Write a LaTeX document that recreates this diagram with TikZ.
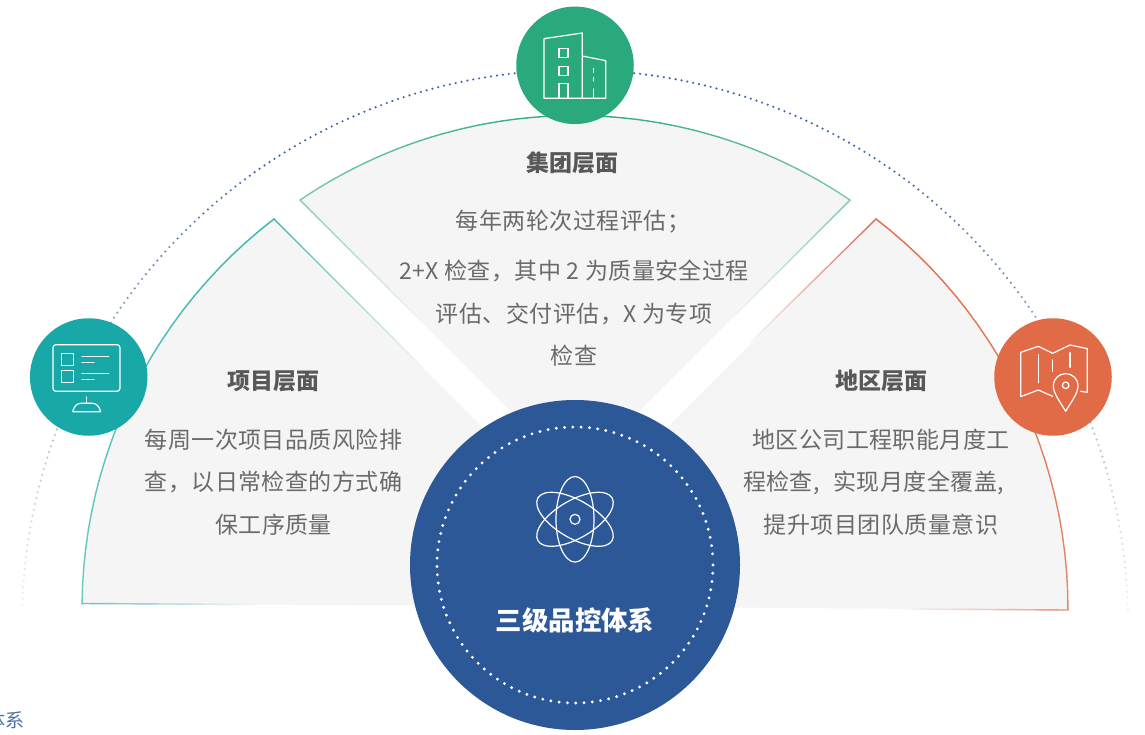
\documentclass[tikz,border=0pt]{standalone}
\usepackage{fontspec}
\setmainfont{Noto Sans CJK SC}
\usetikzlibrary{calc}
\definecolor{panel}{HTML}{F5F5F5}
\definecolor{cblue}{HTML}{2C5898}
\definecolor{dotblue}{HTML}{3D66A8}
\definecolor{cgreen}{HTML}{2AAA7C}
\definecolor{cteal}{HTML}{18A8A8}
\definecolor{cedge}{HTML}{35B5AE}
\definecolor{corange}{HTML}{E26B47}
\definecolor{body}{HTML}{6A6A6A}
\definecolor{head}{HTML}{585858}
\tikzset{
  edgeline/.style={line width=1.4pt,line cap=round},
  icondisc/.style={circle,minimum size=117.5pt,inner sep=0pt,fill=#1},
  iconline/.style={draw=white,line width=1.2pt,line join=round,line cap=round},
  headtext/.style={text=head,font=\fontsize{23}{27}\selectfont\bfseries},
  bodytext/.style={text=body,align=center,font=\fontsize{23}{42.5}\selectfont\addfontfeature{LetterSpace=2}},
}
% straight stroke that fades from p0 % to p1 % of colour into the panel grey
\newcommand{\fadeline}[6]{%
  \foreach \i in {1,...,#6}{%
    \pgfmathsetmacro\pc{#4+(#5-#4)*(\i-.5)/#6}%
    \pgfmathsetmacro\ta{(\i-1)/#6}%
    \pgfmathsetmacro\tb{\i/#6}%
    \draw[edgeline,draw=#3!\pc!panel] ($(#1)!\ta!(#2)$) -- ($(#1)!\tb!(#2)$);
  }}
% arc about (575,605): angles th0..th1, radii r0..r1, colour, p0..p1, steps
\newcommand{\fadearc}[8]{%
  \foreach \i in {1,...,#8}{%
    \pgfmathsetmacro\pc{#6+(#7-#6)*(\i-.5)/#8}%
    \pgfmathsetmacro\ta{#1+(#2-#1)*(\i-1)/#8}%
    \pgfmathsetmacro\tb{#1+(#2-#1)*\i/#8}%
    \pgfmathsetmacro\ra{#3+(#4-#3)*(\i-1)/#8}%
    \pgfmathsetmacro\rb{#3+(#4-#3)*\i/#8}%
    \draw[edgeline,draw=#5!\pc!panel] ({575+\ra*cos(\ta)},{605-\ra*sin(\ta)}) -- ({575+\rb*cos(\tb)},{605-\rb*sin(\tb)});
  }}
\begin{document}
\begin{tikzpicture}[x=1pt,y=-1pt]
\useasboundingbox (0,0) rectangle (1145,735);
\fill[white] (0,0) rectangle (1145,735);

% outer dotted arc, fading towards its feet
\foreach \t in {1.4,2.02,...,178.7}{%
  \pgfmathsetmacro\dist{abs(\t-90)}%
  \pgfmathsetmacro\pc{\dist<35?100:max(10,100-(\dist-35)*90/53)}%
  \fill[dotblue!\pc!white] ({575+553*cos(\t)},{623-553*sin(\t)}) circle (1.2);
}

% panels
\coordinate (LA) at (82,603.5);
\coordinate (LB) at (274,219);
\coordinate (LC) at (423,368);
\coordinate (LD) at (255,604.5);
\coordinate (RA) at (1068,610);
\coordinate (RB) at (876,219);
\coordinate (RC) at (750,343);
\coordinate (RD) at (905,609);
\coordinate (TA) at (300,200);
\coordinate (TB) at (850,200);
\coordinate (TC) at (423,323);
\coordinate (TD) at (733,317);

\fill[panel] plot[domain=179.9:127.9,samples=50] ({575+(489.5+3.5*(\x-127.9)/52)*cos(\x)},{605-(489.5+3.5*(\x-127.9)/52)*sin(\x)}) -- (500,445) -- (500,606) -- (420,605.5) -- cycle;
\fill[panel] plot[domain=-0.6:52.1,samples=50] ({575+(493-3.5*(\x+0.6)/52.7)*cos(\x)},{605-(493-3.5*(\x+0.6)/52.7)*sin(\x)}) -- (650,445) -- (650,607) -- (735,607.5) -- cycle;
\fill[panel] plot[domain=124.2:55.8,samples=50] ({575+489.5*cos(\x)},{605-489.5*sin(\x)}) -- (575,475) -- cycle;

% panel outlines
\fadearc{179.9}{127.9}{493}{489.5}{cedge}{70}{100}{24}
\fadeline{LB}{LC}{cedge}{100}{0}{30}
\fadeline{LA}{LD}{cedge}{75}{0}{30}
\fadearc{-0.6}{52.1}{493}{489.5}{corange}{80}{100}{24}
\fadeline{RB}{RC}{corange}{100}{0}{30}
\fadeline{RA}{RD}{corange}{70}{0}{30}
\fadearc{90}{124.2}{489.5}{489.5}{cgreen}{100}{60}{24}
\fadearc{90}{55.8}{489.5}{489.5}{cgreen}{100}{60}{24}
\fadeline{TA}{TC}{cgreen}{60}{0}{30}
\fadeline{TB}{TD}{cgreen}{60}{0}{30}

% discs
\node[icondisc=cgreen] (groupdisc) at (575,65.3) {};
\node[icondisc=cteal] (projectdisc) at (88.7,377) {};
\node[icondisc=corange] (regiondisc) at (1053,377) {};
\node[circle,minimum size=330pt,inner sep=0pt,fill=cblue] (core) at (575,565) {};

% dotted ring inside the core
\foreach \a in {0,3.45,...,356.6}{
  \fill[white] ($(core.center)+(\a:138)$) circle (1.6);
}

% atom icon
\begin{scope}[shift={(575,519.3)}]
  \draw[iconline] (0,0) ellipse [x radius=19,y radius=42.8];
  \draw[iconline,rotate=60] (0,0) ellipse [x radius=19,y radius=42.8];
  \draw[iconline,rotate=-60] (0,0) ellipse [x radius=19,y radius=42.8];
  \draw[iconline] (0,0) circle (5);
\end{scope}

% building icon
\begin{scope}[shift={(500,0)},x=0.3333pt,y=-0.3333pt]
  \draw[iconline] (247,295) -- (132,295) -- (132,116) -- (247,99) -- cycle;
  \draw[iconline] (247,168) -- (317,182) -- (317,295) -- (247,295);
  \draw[iconline] (177,146) rectangle (204,173);
  \draw[iconline] (177,199) rectangle (204,226);
  \draw[iconline] (177,295) -- (177,251) -- (204,251) -- (204,295);
  \draw[iconline] (281,205) -- (281,217);
  \draw[iconline] (281,232) -- (281,243);
  \draw[iconline] (281,267) -- (281,295);
\end{scope}

% monitor icon
\begin{scope}[shift={(0,300)},x=0.3333pt,y=-0.3333pt]
  \draw[iconline,rounded corners=3pt] (159,134) rectangle (360,274);
  \draw[iconline] (185,160) rectangle (221,196);
  \draw[iconline] (185,212) rectangle (221,248);
  \draw[iconline] (246,170) -- (326,170);
  \draw[iconline] (246,187) -- (282,187);
  \draw[iconline] (246,221) -- (326,221);
  \draw[iconline] (246,239) -- (282,239);
  \draw[iconline] (259,291) -- (259,310);
  \draw[iconline] (218,335) .. controls (222,320) and (230,310) .. (242,310) -- (278,310) .. controls (290,310) and (298,320) .. (302,335) -- cycle;
\end{scope}

% map icon
\begin{scope}[shift={(980,300)},x=0.3333pt,y=-0.3333pt]
  \draw[iconline] (218,289) -- (175,270) -- (122,290) -- (122,157) -- (175,139) -- (218,160) -- (270,135) -- (322,146) -- (322,277) -- (302,274);
  \draw[iconline] (175,164) -- (175,248);
  \draw[iconline] (218,180) -- (218,214);
  \draw[iconline] (270,158) -- (270,202);
  \draw[iconline] (257,334) .. controls (240,305) and (220,280) .. (220,258) .. controls (220,235) and (238,221) .. (257,221) .. controls (276,221) and (294,235) .. (294,258) .. controls (294,280) and (274,305) .. (257,334) -- cycle;
  \draw[iconline] (257,256) circle (3.3pt);
\end{scope}

% texts
\node[headtext] (grouphead) at (572.5,163) {集团层面};
\node[bodytext] (groupone) at (573,221.5) {每年两轮次过程评估；};
\node[bodytext] (grouptwo) at (574,313.5) {2+X 检查，其中 2 为质量安全过程\\评估、交付评估，X 为专项\\检查};
\node[headtext] (projecthead) at (273.5,381) {项目层面};
\node[bodytext] (projectbody) at (273.5,482) {每周一次项目品质风险排\\查，以日常检查的方式确\\保工序质量};
\node[headtext] (regionhead) at (881,381) {地区层面};
\node[bodytext] (regionbody) at (873.5,482) {\hspace*{15pt}地区公司工程职能月度工\\程检查,\hspace{8pt} 实现月度全覆盖,\hspace*{15pt}\\\hspace*{15pt}提升项目团队质量意识};
\node[text=white,font=\fontsize{26.4}{31}\selectfont\bfseries] (coretitle) at (575,620.5) {三级品控体系};
\node[anchor=east,text=cblue!85!white,font=\fontsize{19}{23}\selectfont,inner sep=0pt] (stray) at (24.5,720) {体系};
\end{tikzpicture}
\end{document}
